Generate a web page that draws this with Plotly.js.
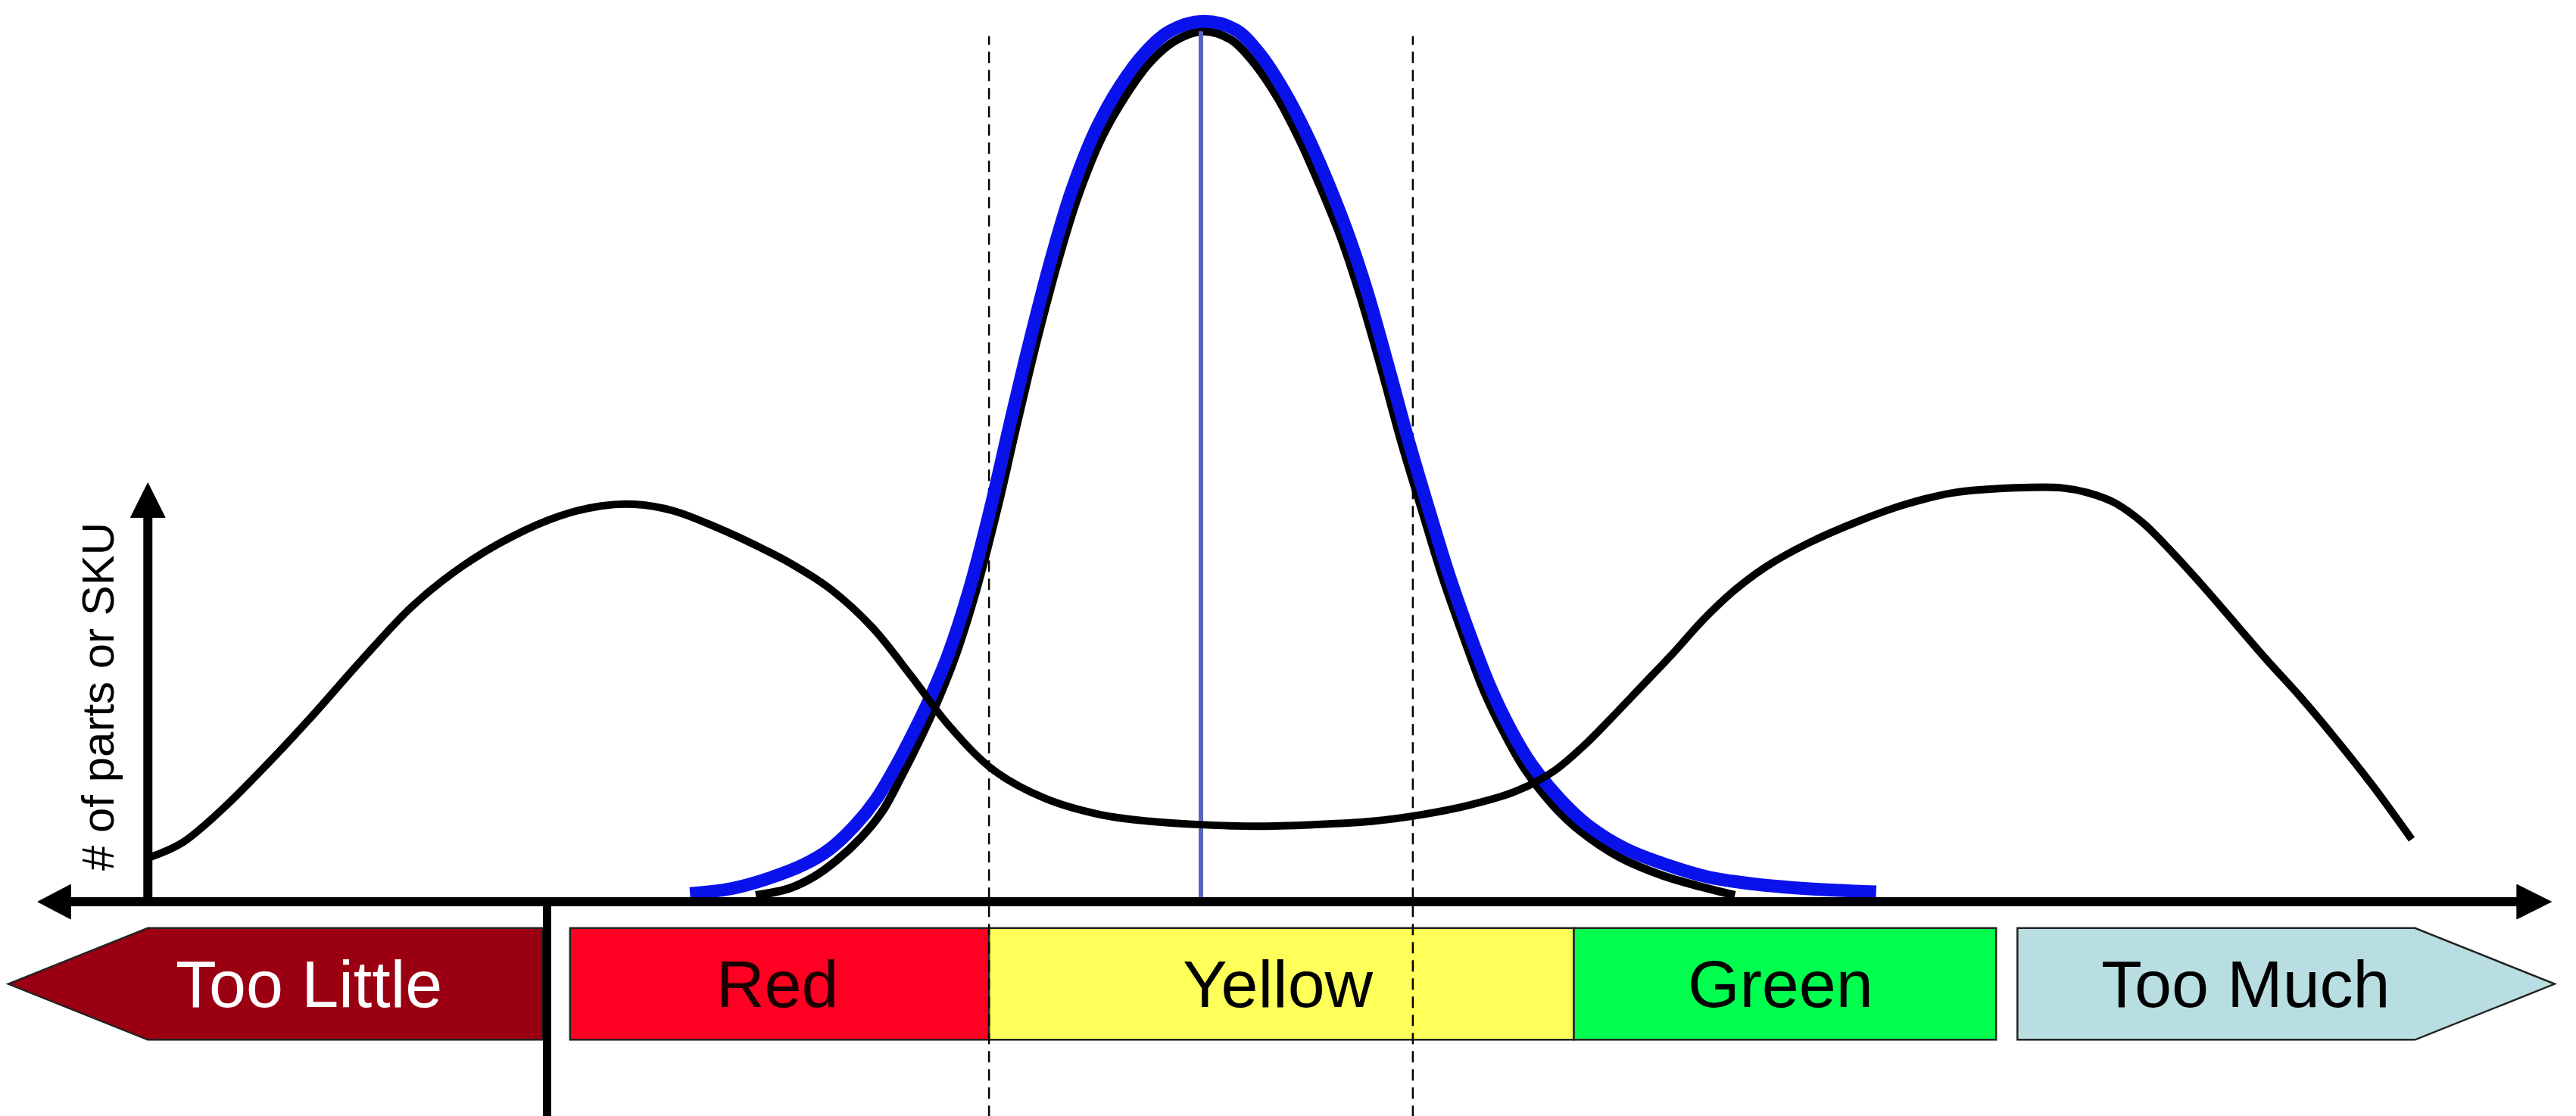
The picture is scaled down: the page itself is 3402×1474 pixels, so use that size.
<!DOCTYPE html>
<html>
<head>
<meta charset="utf-8">
<script src="https://cdn.plot.ly/plotly-3.0.1.min.js"></script>
<style>html,body{margin:0;padding:0;background:#fff;}#chart{width:3402px;height:1474px;}</style>
</head>
<body>
<div id="chart"></div>
<script>
// Actual (bimodal) inventory distribution
const actualX = [0,20,45,69,98,129,160,190,220,250,275,295,319,345,369,392,415,440,464,486,514,545,579,609,639,674,709,744,774,804,831,854,872,889,909,928,946,964,984,1009,1041,1069,1098,1136,1164,1180,1196,1213,1231,1251,1270,1289,1309,1330,1353,1377];
const actualY = [27,36,57,81,112,147,180,204,222,235,241,242,238,228,217,205,190,167,137,108,80,63,53,49,47,46,47,49,53,59,67,79,94,111,132,152,172,189,204,218,232,242,249,252,252,249,243,231,213,191,169,147,125,100,71,38];

// Target (normal) distribution, blue
const targetX = [329,354,376,399,414,429,442,454,465,476,486,499,512,524,536,549,561,576,591,606,621,641,661,676,691,704,716,729,741,754,766,779,791,804,816,829,841,859,875,899,925,949,975,1009,1051];
const targetY = [5,8,14,23,32,46,62,82,103,126,150,190,240,292,342,392,432,470,497,517,530,536,531,516,493,468,441,408,372,326,282,238,199,162,131,104,84,62,47,32,22,15,11,8,6];

// Normal curve shadow, black
const normalX = [369,389,404,418,433,446,458,469,480,490,503,516,528,540,553,565,580,595,609,624,641,658,672,687,700,712,725,737,750,762,775,787,800,812,825,837,855,871,895,921,945,965];
const normalY = [4,8,15,25,39,55,77,99,123,148,189,239,291,341,390,429,466,492,511,524,530,525,511,489,464,437,405,369,324,280,237,198,161,129,102,81,58,43,27,16,9,4];

const meanX = 640;
const meanTop = 530;
const thresholds = [511, 769];

const zoneLabels = ['Too Little', 'Red', 'Yellow', 'Green', 'Too Much'];
const zoneBounds = [[-1, 239], [256, 511], [511, 867], [867, 1124], [1137, 1379]];
const zoneLabelX = [97, 382, 687, 993, 1276];
const zoneFill = ['#9a0012', '#ff0022', '#ffff5a', '#00ff4e', '#b8dee2'];
const zoneText = ['#ffffff', '#1a0000', '#000000', '#000000', '#000000'];
const yAxisTitle = '# of parts or SKU';

const FONT = 'Liberation Sans, Arial, Helvetica, sans-serif';
const yTop = -16, yBot = -84, yMid = -50;

const traces = [
  {x: normalX, y: normalY, mode: 'lines', line: {color: '#000000', width: 11, shape: 'spline', smoothing: 1}, hoverinfo: 'skip'},
  {x: targetX, y: targetY, mode: 'lines', line: {color: '#0a12ec', width: 17, shape: 'spline', smoothing: 1}, hoverinfo: 'skip'},
  {x: [meanX, meanX], y: [0, meanTop], mode: 'lines', line: {color: '#5a62c6', width: 6}, hoverinfo: 'skip'},
  {x: actualX, y: actualY, mode: 'lines', line: {color: '#000000', width: 10, shape: 'spline', smoothing: 1}, hoverinfo: 'skip'}
];

const shapes = [];
zoneBounds.forEach((b, i) => {
  let path;
  if (i === 0) {
    path = `M -86,${yMid} L ${b[0]},${yTop} L ${b[1]},${yTop} L ${b[1]},${yBot} L ${b[0]},${yBot} Z`;
  } else if (i === zoneBounds.length - 1) {
    path = `M ${b[0]},${yTop} L ${b[1]},${yTop} L 1464,${yMid} L ${b[1]},${yBot} L ${b[0]},${yBot} Z`;
  } else {
    path = `M ${b[0]},${yTop} L ${b[1]},${yTop} L ${b[1]},${yBot} L ${b[0]},${yBot} Z`;
  }
  shapes.push({type: 'path', xref: 'x', yref: 'y', path: path, fillcolor: zoneFill[i],
    line: {color: '#222222', width: 2.5}, layer: 'below'});
});
thresholds.forEach(t => {
  shapes.push({type: 'line', xref: 'x', yref: 'y', x0: t, x1: t, y0: -131, y1: 527,
    line: {color: '#000000', width: 2.5, dash: '15px,9px'}, layer: 'below'});
});
shapes.push({type: 'line', xref: 'x', yref: 'y', x0: -52, x1: 1446, y0: 0, y1: 0, line: {color: '#000', width: 12}, layer: 'above'});
shapes.push({type: 'path', xref: 'x', yref: 'y', path: 'M -68,0 L -48,10.5 L -48,-10.5 Z', fillcolor: '#000', line: {color: '#000', width: 1}, layer: 'above'});
shapes.push({type: 'path', xref: 'x', yref: 'y', path: 'M 1462,0 L 1441,10.5 L 1441,-10.5 Z', fillcolor: '#000', line: {color: '#000', width: 1}, layer: 'above'});
shapes.push({type: 'line', xref: 'x', yref: 'y', x0: -1, x1: -1, y0: 0, y1: 238, line: {color: '#000', width: 12}, layer: 'above'});
shapes.push({type: 'path', xref: 'x', yref: 'y', path: 'M -1,255 L -11.5,234 L 9.5,234 Z', fillcolor: '#000', line: {color: '#000', width: 1}, layer: 'above'});
shapes.push({type: 'line', xref: 'x', yref: 'y', x0: 242, x1: 242, y0: 0, y1: -131, line: {color: '#000', width: 11}, layer: 'above'});

const annotations = zoneLabels.map((lab, i) => ({
  x: zoneLabelX[i], y: yMid, xref: 'x', yref: 'y', text: lab, showarrow: false,
  xanchor: 'center', yanchor: 'middle', font: {family: FONT, size: 88, color: zoneText[i]}
}));
annotations.push({x: -31, y: 125, xref: 'x', yref: 'y', text: yAxisTitle, showarrow: false,
  textangle: -90, xanchor: 'center', yanchor: 'middle', font: {family: FONT, size: 60, color: '#000'}});

const layout = {
  width: 3402, height: 1474,
  margin: {l: 0, r: 0, t: 0, b: 0, pad: 0},
  paper_bgcolor: '#ffffff', plot_bgcolor: '#ffffff',
  showlegend: false,
  xaxis: {range: [-91, 1477], visible: false, fixedrange: true},
  yaxis: {range: [-130.4, 549], visible: false, fixedrange: true},
  shapes: shapes,
  annotations: annotations
};

Plotly.newPlot('chart', traces, layout, {displayModeBar: false, staticPlot: true});
</script>
</body>
</html>
